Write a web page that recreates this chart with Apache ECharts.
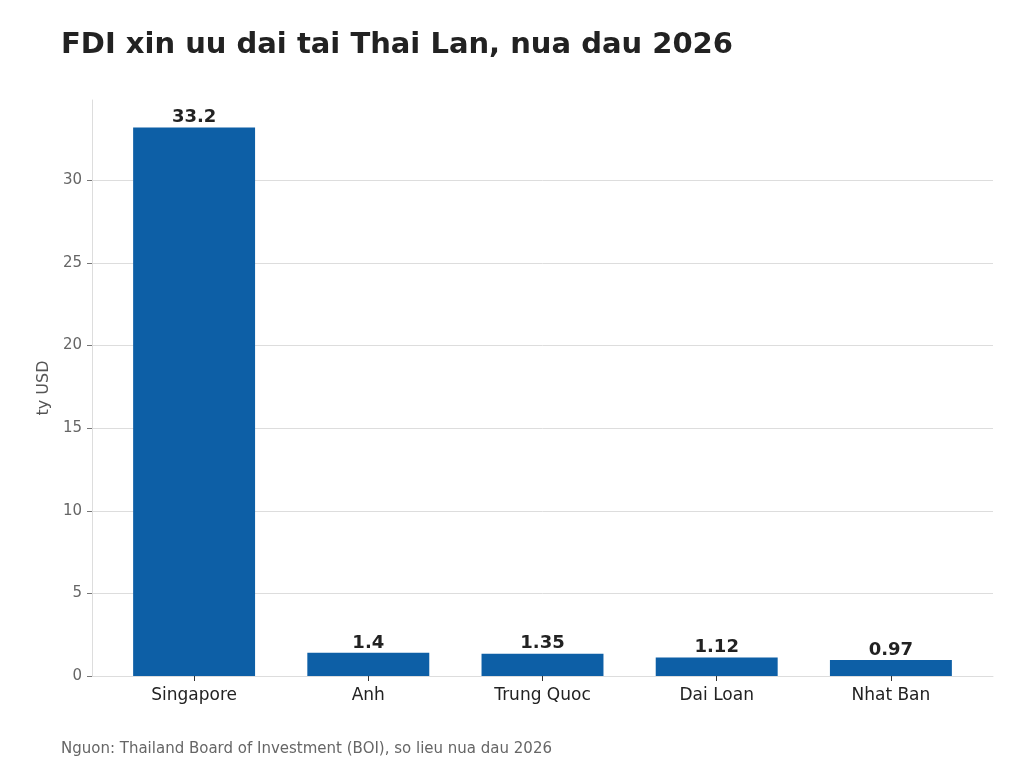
<!DOCTYPE html>
<html>
<head>
<meta charset="utf-8">
<script src="https://cdn.jsdelivr.net/npm/echarts@6/dist/echarts.min.js"></script>
<style>
  html, body { margin: 0; padding: 0; background: #fff; }
  #chart { width: 1024px; height: 768px; }
</style>
</head>
<body>
<div id="chart"></div>
<script>
// ---- 数据 ----
const categories = ['Singapore', 'Anh', 'Trung Quoc', 'Dai Loan', 'Nhat Ban']
const values = [33.2, 1.4, 1.35, 1.12, 0.97]
const valueLabels = ['33.2', '1.4', '1.35', '1.12', '0.97']
const yTicks = [0, 5, 10, 15, 20, 25, 30]

const FONT = 'DejaVu Sans'
const Y_MAX = 34.86
const chart = echarts.init(document.getElementById('chart'))

chart.setOption({
  animation: false,
  backgroundColor: '#ffffff',
  textStyle: { fontFamily: FONT },
  title: [
    {
      text: 'FDI xin uu dai tai Thai Lan, nua dau 2026',
      left: 56, top: 26,
      textStyle: { fontFamily: FONT, fontSize: 29, fontWeight: 'bold', color: '#222222' }
    },
    {
      text: 'Nguon: Thailand Board of Investment (BOI), so lieu nua dau 2026',
      left: 56, top: 737,
      textStyle: { fontFamily: FONT, fontSize: 15, fontWeight: 'normal', color: '#666666' }
    }
  ],
  // grid 0：坐标框（网格线、左轴、底线）；grid 1：柱子（带左右留白）
  grid: [
    { left: 92, right: 31, top: 100, bottom: 92 },
    { left: 107, right: 46, top: 100, bottom: 92 }
  ],
  xAxis: [
    {
      type: 'value', gridIndex: 0, min: 0, max: 1,
      axisLine: { show: true, lineStyle: { color: '#dddddd' } },
      axisTick: { show: false }, axisLabel: { show: false }, splitLine: { show: false }
    },
    {
      type: 'category', gridIndex: 1,
      data: categories,
      axisLine: { show: false },
      axisTick: { show: true, alignWithLabel: true, length: 5, lineStyle: { color: '#333333' } },
      axisLabel: { fontFamily: FONT, fontSize: 17, color: '#222222', margin: 11 }
    }
  ],
  yAxis: [
    {
      type: 'value', gridIndex: 0,
      min: 0, max: Y_MAX, interval: 5,
      name: 'ty USD',
      nameLocation: 'middle',
      nameGap: 35,
      nameTextStyle: { fontFamily: FONT, fontSize: 16, color: '#555555' },
      axisLine: { show: true, lineStyle: { color: '#dddddd' } },
      axisTick: { show: true, length: 5, customValues: yTicks, lineStyle: { color: '#777777' } },
      axisLabel: {
        fontFamily: FONT, fontSize: 15, color: '#666666', margin: 10,
        customValues: yTicks
      },
      splitLine: { showMinLine: false, lineStyle: { color: '#dddddd' } }
    },
    {
      type: 'value', gridIndex: 1, min: 0, max: Y_MAX, show: false,
      splitLine: { show: false }
    }
  ],
  series: [{
    type: 'bar',
    xAxisIndex: 1, yAxisIndex: 1,
    data: values,
    barWidth: '70%',
    itemStyle: { color: '#0d5fa6' },
    label: {
      show: true,
      position: 'top',
      distance: 1,
      fontFamily: FONT, fontSize: 18, fontWeight: 'bold', color: '#222222',
      formatter: p => valueLabels[p.dataIndex]
    }
  }]
})
</script>
</body>
</html>
